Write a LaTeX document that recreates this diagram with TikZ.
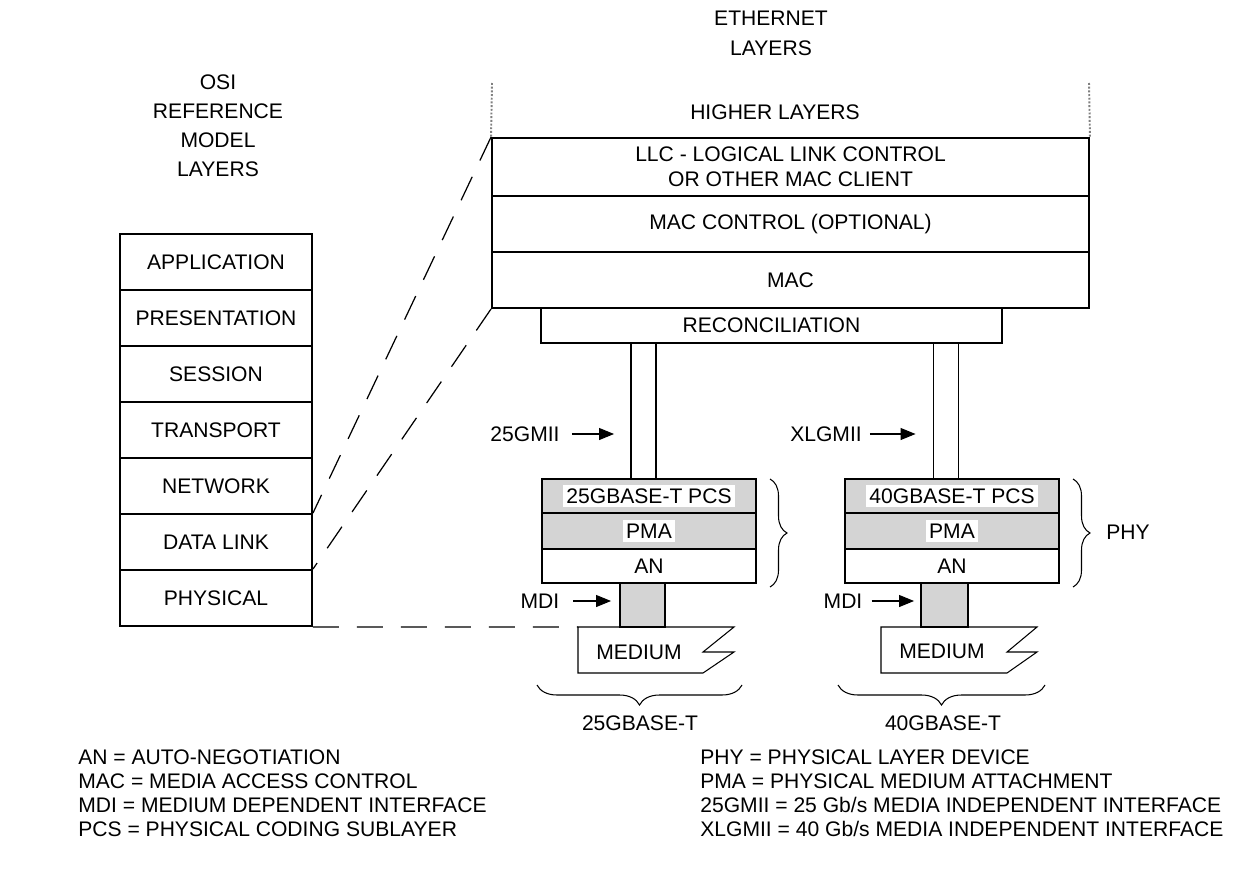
\documentclass[tikz,border=0pt]{standalone}
\usepackage{fontspec}
\setmainfont{Liberation Sans}
\usepackage{tikz}
\usetikzlibrary{calc,arrows.meta,decorations.pathreplacing}
\usetikzlibrary{positioning}
\newlength\px
\setlength\px{0.02cm}

\begin{document}
\begin{tikzpicture}[x=\px, y=-\px, font=\fontsize{12}{14}\selectfont,
    osibox/.style={draw, line width=1.1pt, minimum width=192\px, minimum height=56\px, inner sep=0pt},
    ethbox/.style={draw, line width=1.1pt, minimum width=597\px, minimum height=56\px, inner sep=0pt},
    phybox/.style={draw, line width=1.1pt, minimum width=214\px, inner sep=0pt},
    dots/.style={fill=black!17},
    tag/.style={fill=white, inner sep=2pt},
    arr/.style={-{Triangle[length=0.3cm,width=0.24cm]}, line width=0.6pt},
    linkline/.style={dash pattern=on 0.52cm off 0.36cm, line width=0.7pt},
    brc/.style={decorate, decoration={brace, amplitude=#1}, line width=0.6pt}]
    \useasboundingbox (0,0) rectangle (1256,868);

    % titles
    \node[align=center, font=\fontsize{12}{16.5}\selectfont] at (218,126) (osititle) {OSI\\REFERENCE\\MODEL\\LAYERS};
    \node[align=center, font=\fontsize{12}{17}\selectfont] at (771,33) (ethtitle) {ETHERNET\\LAYERS};

    % OSI stack
    \foreach \lbl [count=\i] in {APPLICATION,PRESENTATION,SESSION,TRANSPORT,NETWORK,DATA LINK,PHYSICAL}
        \node[osibox] at (216,{206+56*\i}) (osi\i) {\lbl};

    % ethernet stack
    \node at (775,112) (higher) {HIGHER LAYERS};
    \node[ethbox, minimum height=58\px, align=center] at (790.5,167) (llc) {LLC - LOGICAL LINK CONTROL\\OR OTHER MAC CLIENT};
    \node[ethbox] at (790.5,224) (macctl) {MAC CONTROL (OPTIONAL)};
    \node[ethbox] at (790.5,280) (mac) {MAC};
    \coordinate (hl1) at (492,83);
    \coordinate (hl2) at (1089,83);
    \draw[densely dotted, gray, line width=1.1pt] (hl1) -- (llc.north west);
    \draw[densely dotted, gray, line width=1.1pt] (hl2) -- (llc.north east);
    \node[draw, line width=1.1pt, minimum width=461\px, minimum height=35\px, inner sep=0pt] at (771.5,325.5) (recon) {RECONCILIATION};

    % media independent interfaces
    \node[draw, line width=1.1pt, minimum width=25\px, minimum height=136\px, inner sep=0pt] at (643.5,411) (col25) {};
    \node[draw, line width=1.1pt, minimum width=25\px, minimum height=136\px, inner sep=0pt] at (946,411) (col40) {};
    \node at (525,434) (gmii25) {25GMII};
    \node at (826,434) (gmii40) {XLGMII};
    \draw[arr, shorten <=0.12cm, shorten >=0.32cm] (gmii25.east) -- (gmii25.east -| col25.west);
    \draw[arr, shorten <=0.04cm, shorten >=0.34cm] (gmii40.east) -- (gmii40.east -| col40.west);

    % PHY stacks
    \node[phybox, dots, minimum height=34\px] at (649,496) (pcs25) {};
    \node[tag] at (pcs25) {25GBASE-T PCS};
    \node[phybox, dots, minimum height=36\px] at (649,531) (pma25) {};
    \node[tag] at (pma25) {PMA};
    \node[phybox, minimum height=34\px] at (649,566) (an25) {AN};
    \node[phybox, dots, minimum height=34\px] at (952,496) (pcs40) {};
    \node[tag] at (pcs40) {40GBASE-T PCS};
    \node[phybox, dots, minimum height=36\px] at (952,531) (pma40) {};
    \node[tag] at (pma40) {PMA};
    \node[phybox, minimum height=34\px] at (952,566) (an40) {AN};
    \draw[brc=0.34cm] (770,479) -- (770,587);
    \draw[brc=0.34cm] (1073,479) -- (1073,587);
    \node at (1128,532) (phy) {PHY};

    % MDI
    \node[draw, line width=1.1pt, dots, minimum width=45\px, minimum height=44\px, inner sep=0pt] at (642.5,605) (mdi25) {};
    \node[draw, line width=1.1pt, dots, minimum width=47\px, minimum height=44\px, inner sep=0pt] at (944.5,605) (mdi40) {};
    \node at (540,601) (mdilbl25) {MDI};
    \node at (843,601) (mdilbl40) {MDI};
    \draw[arr, shorten <=0.15cm, shorten >=0.16cm] (mdilbl25.east) -- (mdilbl25.east -| mdi25.west);
    \draw[arr, shorten <=0.06cm, shorten >=0.12cm] (mdilbl40.east) -- (mdilbl40.east -| mdi40.west);

    % medium
    \draw[line width=0.6pt] (578,627) coordinate (med25) -- (734,627) -- (703,652) -- (734,652) -- (703,673) -- (578,673) -- cycle;
    \draw[line width=0.6pt] (881,627) coordinate (med40) -- (1037,627) -- (1007,652) -- (1037,652) -- (1007,673) -- (881,673) -- cycle;
    \node at (639,652) (medium25) {MEDIUM};
    \node at (942,651) (medium40) {MEDIUM};
    \draw[brc=0.4cm] (742,685) -- (537,685);
    \draw[brc=0.4cm] (1045,685) -- (838,685);
    \node at (640,723) (base25) {25GBASE-T};
    \node at (943,723) (base40) {40GBASE-T};

    % OSI to ethernet
    \draw[linkline] (llc.north west) -- (osi6.north east);
    \draw[linkline] (mac.south west) -- (osi7.north east);
    \draw[linkline] (osi7.south east) -- (med25);

    % legend
    \foreach \t [count=\i] in {AN = AUTO-NEGOTIATION,MAC = MEDIA ACCESS CONTROL,MDI = MEDIUM DEPENDENT INTERFACE,PCS = PHYSICAL CODING SUBLAYER}
        \node[anchor=base west, inner sep=0pt] at (78,{740.5+24*\i}) (legl\i) {\t};
    \foreach \t [count=\i] in {PHY = PHYSICAL LAYER DEVICE,PMA = PHYSICAL MEDIUM ATTACHMENT,25GMII = 25 Gb/s MEDIA INDEPENDENT INTERFACE,XLGMII = 40 Gb/s MEDIA INDEPENDENT INTERFACE}
        \node[anchor=base west, inner sep=0pt] at (700,{740.5+24*\i}) (legr\i) {\t};
\end{tikzpicture}
\end{document}
